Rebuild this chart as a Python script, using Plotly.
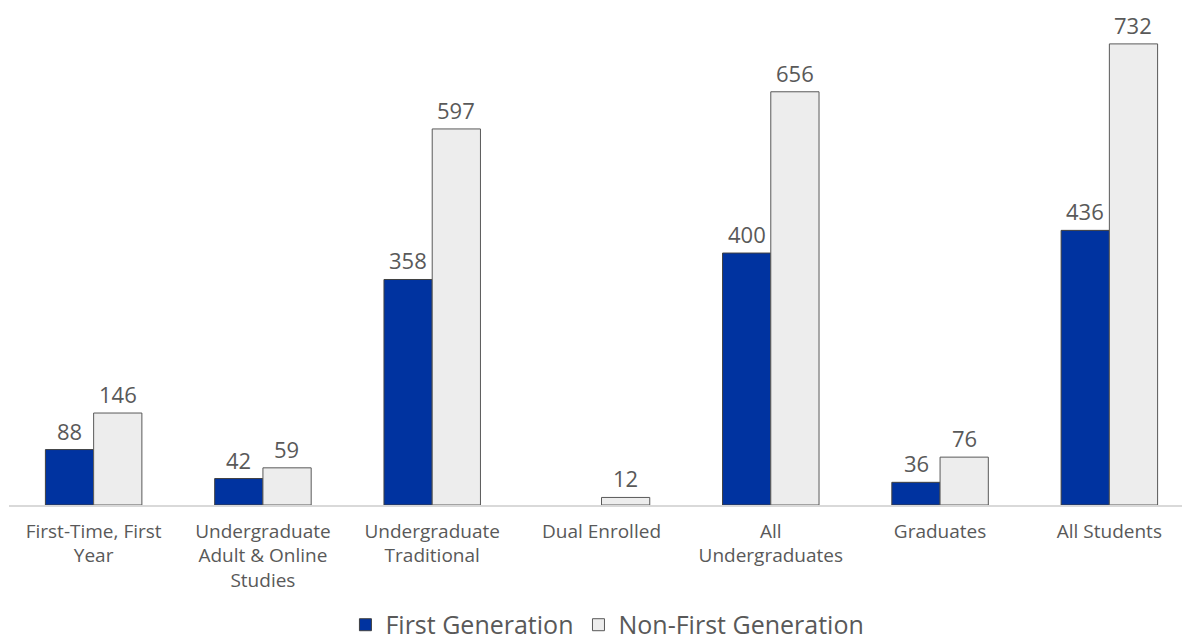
import plotly.graph_objects as go

categories = ["First-Time, First<br>Year", "Undergraduate<br>Adult & Online<br>Studies",
              "Undergraduate<br>Traditional", "Dual Enrolled", "All<br>Undergraduates",
              "Graduates", "All Students"]
first_gen = [88, 42, 358, None, 400, 36, 436]
non_first_gen = [146, 59, 597, 12, 656, 76, 732]

FONT = "Open Sans, Lato, sans-serif"
GRAY = "#595959"

fig = go.Figure()
fig.add_trace(go.Bar(
    x=categories, y=first_gen, name="First Generation",
    marker=dict(color="#0033A0", line=dict(color="#404040", width=1)),
))
fig.add_trace(go.Bar(
    x=categories, y=non_first_gen, name="Non-First Generation",
    marker=dict(color="#EDEDED", line=dict(color="#595959", width=1)),
))

# value labels placed at data coordinates, shifted to each bar of the group
for vals, xs in ((first_gen, -24), (non_first_gen, 24)):
    for c, v in zip(categories, vals):
        if v is None:
            continue
        fig.add_annotation(x=c, y=v, xref="x", yref="y", text=str(v),
                           showarrow=False, xshift=xs, yshift=19,
                           yanchor="middle", xanchor="center", borderpad=0,
                           font=dict(size=22, color=GRAY, family=FONT))

fig.update_layout(
    width=1190, height=642,
    margin=dict(l=1, r=4, t=0, b=145, autoexpand=False),
    paper_bgcolor="white", plot_bgcolor="white",
    barmode="group", bargap=0.43, bargroupgap=0,
    font=dict(family=FONT, color=GRAY),
    showlegend=True,
    legend=dict(orientation="h", x=0.505, xanchor="center",
                yref="container", y=0.039, yanchor="middle",
                font=dict(size=25, color=GRAY, family=FONT), itemwidth=30,
                traceorder="normal"),
    xaxis=dict(showline=True, linecolor="#D9D9D9", linewidth=1.5,
               ticks="outside", ticklen=8, tickcolor="rgba(0,0,0,0)",
               tickfont=dict(size=19, color=GRAY, family=FONT)),
    yaxis=dict(range=[0, 789], visible=False, showgrid=False, zeroline=False),
)

fig.write_html("out.html")
